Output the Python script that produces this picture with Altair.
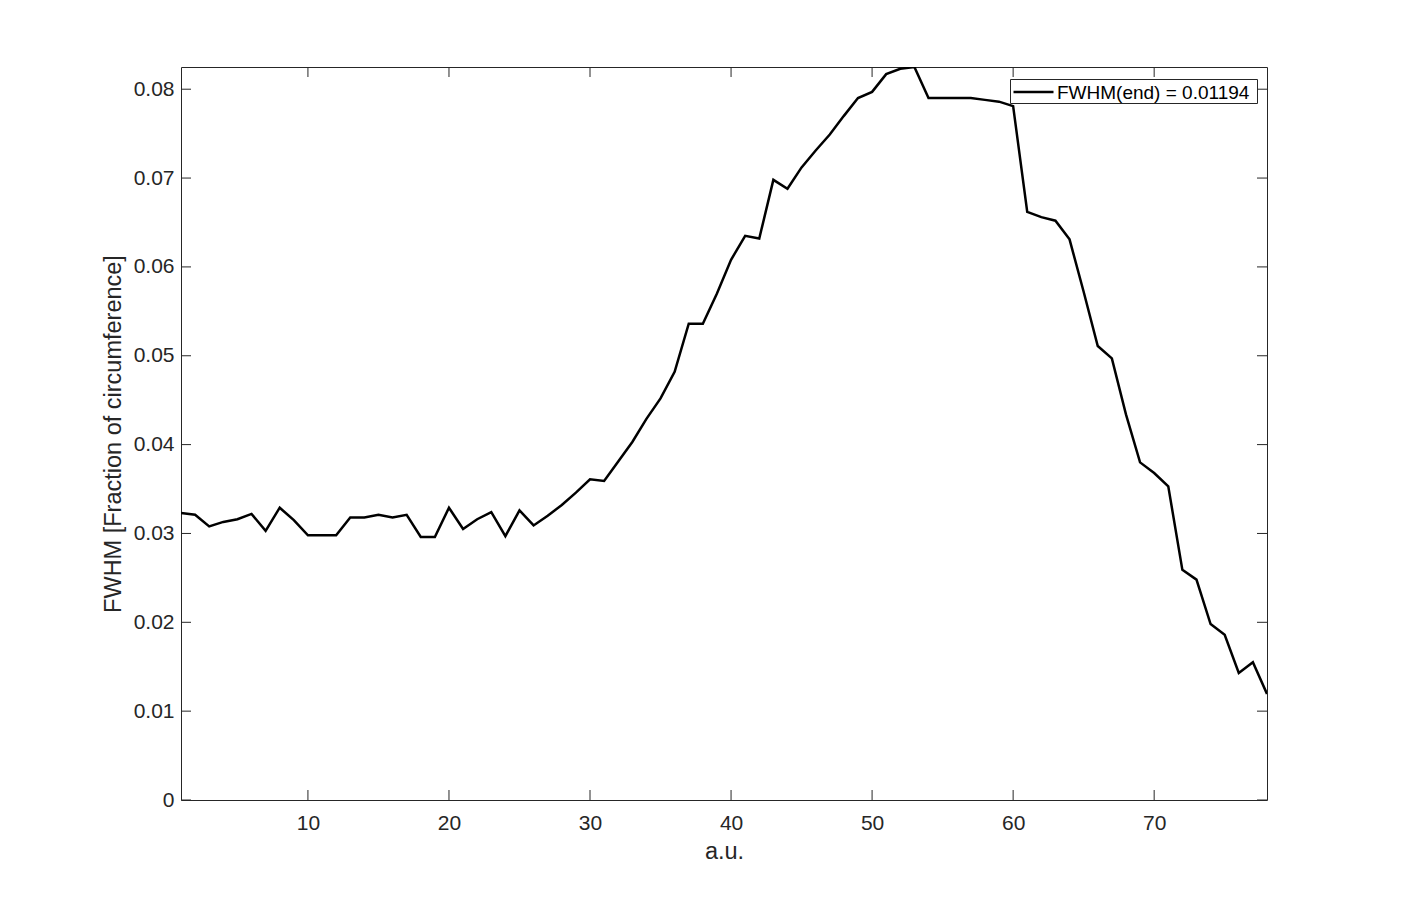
import altair as alt
import pandas as pd

# ---- data ----
steps = list(range(1, 79))
fwhm = [
    0.0323, 0.0321, 0.0308, 0.0313, 0.0316, 0.0322, 0.0303, 0.0329, 0.0315, 0.0298,
    0.0298, 0.0298, 0.0318, 0.0318, 0.0321, 0.0318, 0.0321, 0.0296, 0.0296, 0.0329,
    0.0305, 0.0316, 0.0324, 0.0297, 0.0326, 0.0309, 0.0320, 0.0332, 0.0346, 0.0361,
    0.0359, 0.0381, 0.0403, 0.0429, 0.0452, 0.0482, 0.0536, 0.0536, 0.0570, 0.0608,
    0.0635, 0.0632, 0.0698, 0.0688, 0.0712, 0.0731, 0.0749, 0.0770, 0.0790, 0.0797,
    0.0817, 0.0823, 0.0825, 0.0790, 0.0790, 0.0790, 0.0790, 0.0788, 0.0786, 0.0781,
    0.0662, 0.0656, 0.0652, 0.0631, 0.0572, 0.0511, 0.0497, 0.0434, 0.0380, 0.0368,
    0.0353, 0.0259, 0.0248, 0.0198, 0.0186, 0.0143, 0.0155, 0.01194,
]
series_label = ["FWHM(end) = 0.01194"]
x_ticks = [10, 20, 30, 40, 50, 60, 70]
y_ticks = [0, 0.01, 0.02, 0.03, 0.04, 0.05, 0.06, 0.07, 0.08]
x_domain = [1, 78]
y_domain = [0, 0.0825]

W, H = 1086, 733
TICK = 10
FONT = "Liberation Sans"
AXC = "#262626"

df = pd.DataFrame({"step": steps, "fwhm": fwhm})
xt = pd.DataFrame({"v": x_ticks})
yt = pd.DataFrame({"v": y_ticks})
leg = pd.DataFrame({"label": series_label})

xscale = alt.Scale(domain=x_domain, nice=False, zero=False)
yscale = alt.Scale(domain=y_domain, nice=False)

line = alt.Chart(df).mark_line(strokeWidth=2.5, color="#000000", clip=True).encode(
    x=alt.X("step:Q", scale=xscale,
            axis=alt.Axis(title="a.u.", values=x_ticks, format="d")),
    y=alt.Y("fwhm:Q", scale=yscale,
            axis=alt.Axis(title="FWHM [Fraction of circumference]",
                          values=y_ticks, format="~g")),
)

ytick_left = alt.Chart(yt).mark_rule(color=AXC, strokeWidth=1).encode(
    y=alt.Y("v:Q", scale=yscale), x=alt.value(0), x2=alt.value(TICK))
ytick_right = alt.Chart(yt).mark_rule(color=AXC, strokeWidth=1).encode(
    y=alt.Y("v:Q", scale=yscale), x=alt.value(W - TICK), x2=alt.value(W))
xtick_bottom = alt.Chart(xt).mark_rule(color=AXC, strokeWidth=1).encode(
    x=alt.X("v:Q", scale=xscale), y=alt.value(H), y2=alt.value(H - TICK))
xtick_top = alt.Chart(xt).mark_rule(color=AXC, strokeWidth=1).encode(
    x=alt.X("v:Q", scale=xscale), y=alt.value(0), y2=alt.value(TICK))

# legend box (top-right, MATLAB style)
leg_box = alt.Chart(leg).mark_rect(fill="white", stroke=AXC, strokeWidth=1).encode(
    x=alt.value(829.5), x2=alt.value(1076.5), y=alt.value(12.5), y2=alt.value(36.5))
leg_sym = alt.Chart(leg).mark_rule(color="#000000", strokeWidth=2.5).encode(
    x=alt.value(832.5), x2=alt.value(872.5), y=alt.value(25))
leg_txt = alt.Chart(leg).mark_text(
    align="left", baseline="alphabetic", font=FONT, fontSize=19, color="#000000"
).encode(x=alt.value(876), y=alt.value(31.5), text="label:N")

chart = alt.layer(
    ytick_left, ytick_right, xtick_bottom, xtick_top, line, leg_box, leg_sym, leg_txt
).properties(
    width=W, height=H,
    background="white",
    autosize=alt.AutoSizeParams(type="none"),
    padding={"left": 173, "top": 59, "right": 100, "bottom": 80},
).configure_view(
    stroke=AXC, strokeWidth=1
).configure_axis(
    grid=False, ticks=False, tickSize=0, domain=False,
    labelFont=FONT, labelFontSize=21, labelColor=AXC,
    titleFont=FONT, titleFontSize=23.5, titleColor=AXC, titleFontWeight="normal",
).configure_axisX(
    labelPadding=12, titlePadding=6,
).configure_axisY(
    labelPadding=7, titlePadding=8,
)

chart.save("out.html", embed_options={"renderer": "svg", "actions": False})
